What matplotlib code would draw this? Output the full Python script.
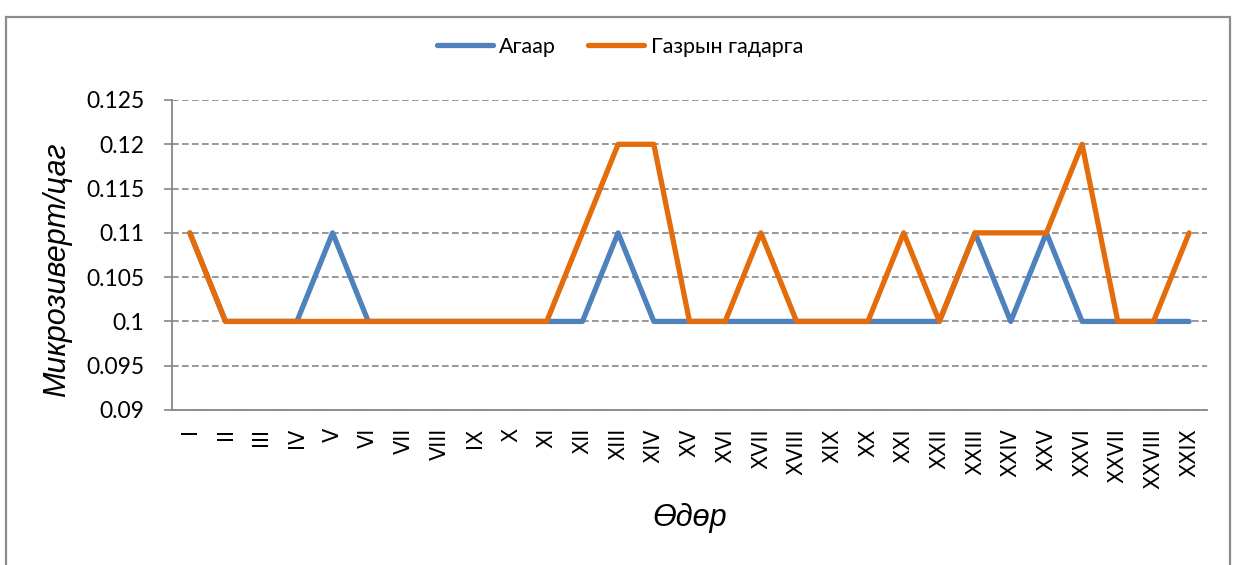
import matplotlib
matplotlib.use('Agg')
from matplotlib import pyplot as plt
from matplotlib.patches import Rectangle

# Өдрүүд (I..XXIX)
odor = ['I', 'II', 'III', 'IV', 'V', 'VI', 'VII', 'VIII', 'IX', 'X',
        'XI', 'XII', 'XIII', 'XIV', 'XV', 'XVI', 'XVII', 'XVIII', 'XIX', 'XX',
        'XXI', 'XXII', 'XXIII', 'XXIV', 'XXV', 'XXVI', 'XXVII', 'XXVIII', 'XXIX']

agaar = [0.11, 0.1, 0.1, 0.1, 0.11, 0.1, 0.1, 0.1, 0.1, 0.1,
         0.1, 0.1, 0.11, 0.1, 0.1, 0.1, 0.1, 0.1, 0.1, 0.1,
         0.1, 0.1, 0.11, 0.1, 0.11, 0.1, 0.1, 0.1, 0.1]

gazar = [0.11, 0.1, 0.1, 0.1, 0.1, 0.1, 0.1, 0.1, 0.1, 0.1,
         0.1, 0.11, 0.12, 0.12, 0.1, 0.1, 0.11, 0.1, 0.1, 0.1,
         0.11, 0.1, 0.11, 0.11, 0.11, 0.12, 0.1, 0.1, 0.11]

yticks = [0.09, 0.095, 0.1, 0.105, 0.11, 0.115, 0.12, 0.125]
ytick_labels = ['0.09', '0.095', '0.1', '0.105', '0.11', '0.115', '0.12', '0.125']

W, H = 1235, 565
fig = plt.figure(figsize=(W / 100, H / 100), dpi=100)
fig.patch.set_facecolor('white')

# Гадна хүрээ
fig.patches.append(Rectangle((6 / W, -0.05), 1224 / W, 1 - 17 / H + 0.05,
                             transform=fig.transFigure, fill=False,
                             edgecolor='#8c8c8c', linewidth=1.6))

ax = fig.add_axes([172 / W, 1 - 410 / H, 1035 / W, 310 / H])
x = list(range(len(odor)))
l1, = ax.plot(x, agaar, color='#4F81BD', linewidth=3.8, solid_joinstyle='round',
              solid_capstyle='round', label='Агаар', zorder=3)
l2, = ax.plot(x, gazar, color='#E46C0A', linewidth=3.8, solid_joinstyle='round',
              solid_capstyle='round', label='Газрын гадарга', zorder=4)

ax.set_xlim(-0.5, len(odor) - 0.5)
ax.set_ylim(0.09, 0.125)
ax.set_yticks(yticks)
ax.set_yticklabels(ytick_labels, fontfamily='Lato', fontsize=16.5)
ax.set_xticks(x)
ax.set_xticklabels(odor, rotation=90, fontfamily='DejaVu Sans', fontsize=15,
                   va='top', ha='center')
ax.tick_params(axis='x', length=0, pad=13)
ax.tick_params(axis='y', length=6, color='#868686', width=1.2, pad=14)
ax.grid(axis='y', color='#868686', linestyle=(0, (4, 2)), linewidth=1.2, zorder=1)
for s in ['top', 'right']:
    ax.spines[s].set_visible(False)
for s in ['left', 'bottom']:
    ax.spines[s].set_color('#868686')
    ax.spines[s].set_linewidth(1.3)

fig.text(57 / W, 1 - 270 / H, 'Микрозиверт/цаг', rotation=90, ha='center', va='center',
         fontfamily='Liberation Sans', fontstyle='italic', fontsize=22)
fig.text(689.5 / W, 1 - 518 / H, 'Өдөр', ha='center', va='center',
         fontfamily='Liberation Sans', fontstyle='italic', fontsize=22)

leg = fig.legend(handles=[l1, l2], loc='center', bbox_to_anchor=(620 / W, 1 - 47 / H),
                 ncol=2, frameon=False, handlelength=2.6, handletextpad=0.3,
                 columnspacing=1.5, prop={'family': 'Lato', 'size': 15.5})

fig.savefig('out.png', dpi=100)
